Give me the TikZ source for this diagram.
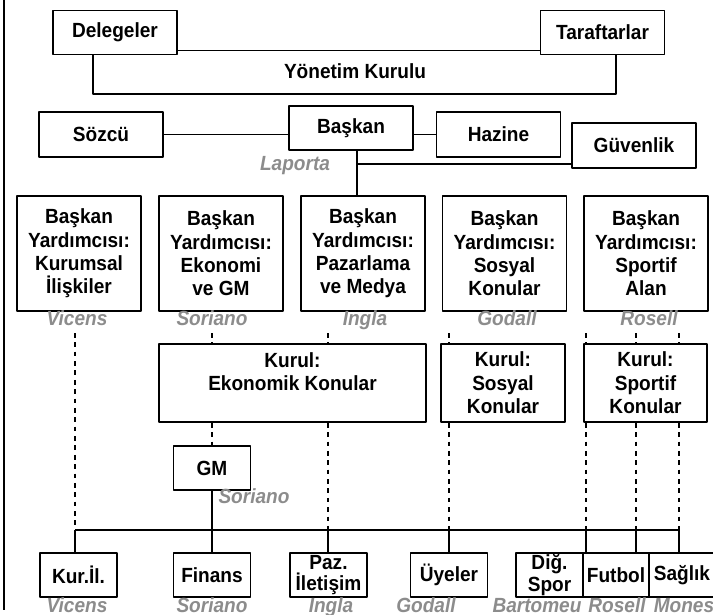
\documentclass[tikz,border=0pt]{standalone}
\usepackage{fontspec}
\setmainfont[FakeStretch=0.93]{Liberation Sans}
\begin{document}
\begin{tikzpicture}[x=0.3mm,y=-0.3mm,line join=round,
	box/.style={draw,line width=1.4pt,fill=white,inner sep=0pt,align=center,font=\bfseries\fontsize{17.5}{20}\selectfont},
	big/.style={box,minimum width=37.2mm,minimum height=13.5mm},
	vp/.style={box,minimum width=37.2mm,minimum height=34.5mm},
	kur/.style={box,minimum width=37.2mm,minimum height=23.4mm},
	dep/.style={box,minimum width=23mm,minimum height=13.2mm,font=\bfseries\fontsize{17.5}{18.5}\selectfont},
	txt/.style={inner sep=0pt,font=\bfseries\fontsize{17.5}{20}\selectfont},
	who/.style={inner sep=0pt,anchor=base,text=gray!90,font=\bfseries\itshape\fontsize{17.5}{20}\selectfont},
	con/.style={line width=1.4pt},
	dsh/.style={line width=1.4pt,dash pattern=on 4pt off 4pt}]
	\useasboundingbox (0,0) rectangle (713,615);
	\draw[con] (4,0)--(4,610);
	% top
	\node[big,minimum height=13.2mm] (del) at (115,32.5) {Delegeler};
	\node[big,minimum height=13.2mm] (taraf) at (602.5,32.5) {Taraftarlar};
	\node[txt] (yk) at (355,71) {Yönetim Kurulu};
	\coordinate (ykl) at (93,94);
	\coordinate (ykr) at (616,94);
	\draw[con] ([yshift=1.5mm]del.south east) -- ([yshift=1.5mm]del.south east -| taraf.west);
	\draw[con] (del.south -| ykl) -- (ykl) -- (ykr) -- (taraf.south -| ykr);
	\node[big] (sozcu) at (101,134.5) {Sözcü};
	\node[big,minimum height=13.2mm] (baskan) at (351,128) {Başkan};
	\node[big] (hazine) at (498.5,134.5) {Hazine};
	\node[big] (guv) at (634,145.5) {Güvenlik};
	\node[who] (laporta) at (295,170) {Laporta};
	\draw[con] (sozcu.east) -- (sozcu.east -| baskan.west);
	\draw[con] (hazine.west) -- (hazine.west -| baskan.east);
	% baskan yardimcilari
	\node[vp] (vp1) at (79,253.5) {Başkan\\Yardımcısı:\\Kurumsal\\İlişkiler};
	\node[vp] (vp2) at (221,253.5) {Başkan\\Yardımcısı:\\Ekonomi\\ve GM};
	\node[vp] (vp3) at (363,253.5) {Başkan\\Yardımcısı:\\Pazarlama\\ve Medya};
	\node[vp] (vp4) at (504.5,253.5) {Başkan\\Yardımcısı:\\Sosyal\\Konular};
	\node[vp] (vp5) at (646,253.5) {Başkan\\Yardımcısı:\\Sportif\\Alan};
	\coordinate (bj) at (357,164);
	\draw[con] (baskan.south -| bj) -- (bj |- vp3.north);
	\draw[con] (bj) -- (bj -| guv.west);
	\node[who] (vicens) at (77,325) {Vicens};
	\node[who] (soriano) at (212,325) {Soriano};
	\node[who] (ingla) at (365,325) {Ingla};
	\node[who] (godall) at (507,325) {Godall};
	\node[who] (rosell) at (649,325) {Rosell};
	% kurullar
	\node[kur,minimum width=80.1mm] (kek) at (292.5,383) {Kurul:\\Ekonomik Konular\\\mbox{}};
	\node[kur] (ksos) at (503,383) {Kurul:\\Sosyal\\Konular};
	\node[kur,minimum width=36.9mm] (kspor) at (645.5,383) {Kurul:\\Sportif\\Konular};
	\node[dep] (gm) at (212,468) {GM};
	\node[who] (gmwho) at (254,503) {Soriano};
	% birimler
	\node[dep] (kuril) at (78.5,575) {Kur.İl.};
	\node[dep] (finans) at (212,575) {Finans};
	\node[dep] (paz) at (328.5,575) {Paz.\\İletişim};
	\node[dep] (uyeler) at (449,575) {Üyeler};
	\node[dep,minimum width=20.1mm] (digspor) at (549.5,575) {Diğ.\\Spor};
	\node[dep,minimum width=19.8mm] (futbol) at (616,575) {Futbol};
	\node[dep,minimum width=19.8mm] (saglik) at (682,575) {Sağlık};
	\node[who] (w1) at (77,612) {Vicens};
	\node[who] (w2) at (212,612) {Soriano};
	\node[who] (w3) at (331,612) {Ingla};
	\node[who] (w4) at (426,612) {Godall};
	\node[who] (w5) at (537,612) {Bartomeu};
	\node[who] (w6) at (617,612) {Rosell};
	\node[who] (w7) at (684,612) {Mones};
	% baglantilar
	\foreach \x/\n in {75/a,212/b,328/c,449/d,586/e,636/f,679/g}
		\coordinate (t\n) at (\x,333);
	\coordinate (busl) at (75,530);
	\coordinate (busr) at (679,530);
	\draw[con] (busl) -- (busr);
	\draw[dsh] (ta) -- (busl);
	\draw[dsh] (tb) -- (tb |- kek.north);
	\draw[dsh] (tb |- kek.south) -- (gm.north);
	\foreach \n/\k in {c/kek,d/ksos,e/kspor,f/kspor,g/kspor}{
		\draw[dsh] (t\n) -- (t\n |- \k.north);
		\draw[dsh] (t\n |- \k.south) -- (t\n |- busl);
	}
	\draw[con] (busl) -- (busl |- kuril.north);
	\draw[con] (gm) -- (finans);
	\draw[con] (tc |- busl) -- (tc |- paz.north);
	\draw[con] (td |- busl) -- (td |- uyeler.north);
	\draw[con] (te |- busl) -- (te |- futbol.north);
	\draw[con] (tf |- busl) -- (tf |- futbol.north);
	\draw[con] (tg |- busl) -- (tg |- saglik.north);
\end{tikzpicture}
\end{document}
